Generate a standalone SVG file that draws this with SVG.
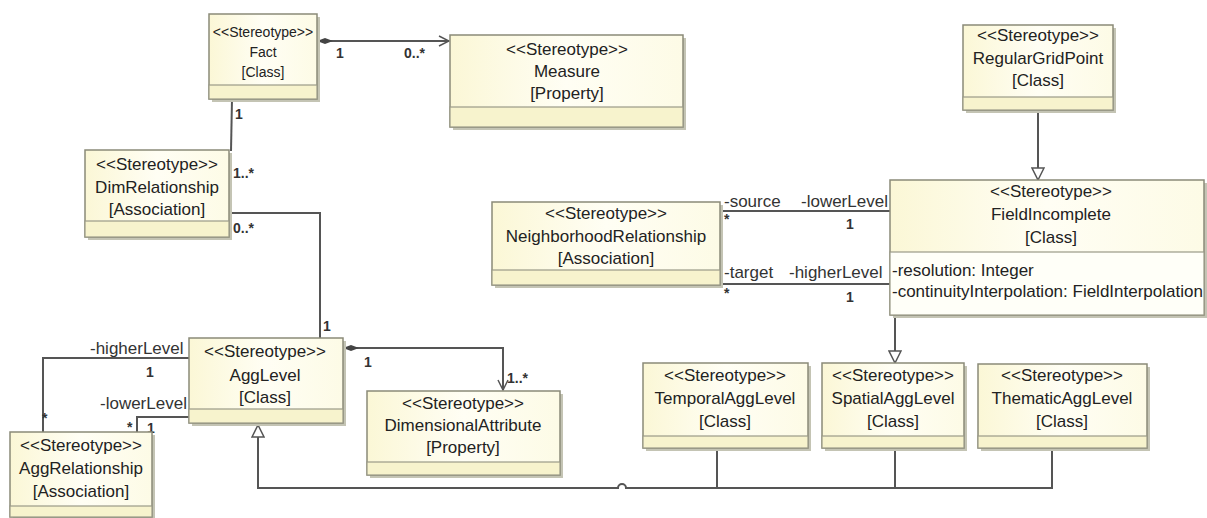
<svg xmlns="http://www.w3.org/2000/svg" width="1207" height="518" viewBox="0 0 1207 518">
<defs>
<linearGradient id="g" x1="0" y1="0" x2="1" y2="0">
<stop offset="0" stop-color="#fbf7d6"/>
<stop offset="0.5" stop-color="#fffef4"/>
<stop offset="1" stop-color="#fdfbe6"/>
</linearGradient>
<marker id="open" viewBox="0 0 12 12" refX="11" refY="6" markerWidth="12" markerHeight="12" markerUnits="userSpaceOnUse" orient="auto">
<path d="M1,1 L11,6 L1,11" fill="none" stroke="#555" stroke-width="1.5"/>
</marker>
<marker id="dia" viewBox="0 0 18 8" refX="1" refY="4" markerWidth="18" markerHeight="8" markerUnits="userSpaceOnUse" orient="auto">
<path d="M1,4 L9,1 L17,4 L9,7 Z" fill="#444"/>
</marker>
<marker id="tri" viewBox="0 0 14 14" refX="13" refY="7" markerWidth="14" markerHeight="14" markerUnits="userSpaceOnUse" orient="auto">
<path d="M1,1 L13,7 L1,13 Z" fill="#fff" stroke="#555" stroke-width="1.5"/>
</marker>
</defs>
<style>
.sh{fill:#c4c4b4;}
.box{fill:url(#g);stroke:#8a8a78;stroke-width:1.5;}
.cmp{fill:#f7f3cd;stroke:#9a9a88;stroke-width:1.2;}
.t{font-family:"Liberation Sans",Arial,sans-serif;font-size:17px;fill:#222;text-anchor:middle;}
.ts{font-family:"Liberation Sans",Arial,sans-serif;font-size:14px;fill:#222;text-anchor:middle;}
.a{font-family:"Liberation Sans",Arial,sans-serif;font-size:17px;fill:#222;}
.l{font-family:"Liberation Sans",Arial,sans-serif;font-size:17px;fill:#333;}
.m{font-family:"Liberation Sans",Arial,sans-serif;font-size:14px;font-weight:bold;fill:#333;}
.c{fill:none;stroke:#555;stroke-width:2;}
</style>

<g id="connectors">
<line class="c" x1="317" y1="41" x2="449" y2="41" marker-start="url(#dia)" marker-end="url(#open)"/>
<text class="m" x="336" y="58">1</text>
<text class="m" x="404" y="58">0..*</text>
<line class="c" x1="232" y1="99" x2="231" y2="151"/>
<text class="m" x="235" y="119">1</text>
<text class="m" x="233" y="178">1..*</text>
<polyline class="c" points="229,213 320,213 320,338"/>
<text class="m" x="233" y="233">0..*</text>
<text class="m" x="323" y="331">1</text>
<polyline class="c" points="343,348 503,348 503,390" marker-start="url(#dia)" marker-end="url(#open)"/>
<text class="m" x="364" y="367">1</text>
<text class="m" x="507" y="383">1..*</text>
<polyline class="c" points="43,432 43,358 189,358"/>
<text class="l" x="90" y="354">-higherLevel</text>
<text class="m" x="146" y="377">1</text>
<text class="m" x="42" y="423">*</text>
<polyline class="c" points="189,417 137,417 137,432"/>
<text class="l" x="100" y="409">-lowerLevel</text>
<text class="m" x="147" y="433">1</text>
<text class="m" x="127" y="432">*</text>
<path class="c" d="M1052,448 L1052,488 L626,488 A4,4 0 0 0 618,488 L258,488 L258,425" marker-end="url(#tri)"/>
<line class="c" x1="717" y1="448" x2="717" y2="488"/>
<line class="c" x1="895" y1="448" x2="895" y2="488"/>
<line class="c" x1="895" y1="315" x2="895" y2="363" marker-end="url(#tri)"/>
<line class="c" x1="1038" y1="110" x2="1038" y2="180" marker-end="url(#tri)"/>
<line class="c" x1="720" y1="211" x2="890" y2="211"/>
<text class="l" x="724" y="207">-source</text>
<text class="l" x="801" y="207">-lowerLevel</text>
<text class="m" x="724" y="224">*</text>
<text class="m" x="846" y="229">1</text>
<line class="c" x1="720" y1="284" x2="890" y2="284"/>
<text class="l" x="724" y="278">-target</text>
<text class="l" x="789" y="278">-higherLevel</text>
<text class="m" x="724" y="298">*</text>
<text class="m" x="846" y="302">1</text>
</g>

<g id="fact">
<rect class="sh" x="212" y="17" width="108" height="85"/>
<rect class="box" x="209" y="14" width="108" height="85"/>
<rect class="cmp" x="209" y="85" width="108" height="14"/>
<text class="ts" x="263" y="37">&lt;&lt;Stereotype&gt;&gt;</text>
<text class="ts" x="263" y="57">Fact</text>
<text class="ts" x="263" y="77">[Class]</text>
</g>

<g id="measure">
<rect class="sh" x="453" y="38" width="233" height="92"/>
<rect class="box" x="450" y="35" width="233" height="92"/>
<rect class="cmp" x="450" y="107" width="233" height="20"/>
<text class="t" x="567" y="55">&lt;&lt;Stereotype&gt;&gt;</text>
<text class="t" x="567" y="77">Measure</text>
<text class="t" x="567" y="99">[Property]</text>
</g>

<g id="dimrelationship">
<rect class="sh" x="88" y="153" width="144" height="87"/>
<rect class="box" x="85" y="150" width="144" height="87"/>
<rect class="cmp" x="85" y="221" width="144" height="16"/>
<text class="t" x="157" y="170">&lt;&lt;Stereotype&gt;&gt;</text>
<text class="t" x="157" y="193">DimRelationship</text>
<text class="t" x="157" y="215">[Association]</text>
</g>

<g id="agglevel">
<rect class="sh" x="192" y="341" width="154" height="85"/>
<rect class="box" x="189" y="338" width="154" height="85"/>
<rect class="cmp" x="189" y="409" width="154" height="14"/>
<text class="t" x="265" y="357">&lt;&lt;Stereotype&gt;&gt;</text>
<text class="t" x="265" y="381">AggLevel</text>
<text class="t" x="265" y="403">[Class]</text>
</g>

<g id="aggrelationship">
<rect class="sh" x="13" y="435" width="142" height="85"/>
<rect class="box" x="10" y="432" width="142" height="85"/>
<rect class="cmp" x="10" y="506" width="142" height="11"/>
<text class="t" x="81" y="451">&lt;&lt;Stereotype&gt;&gt;</text>
<text class="t" x="81" y="474">AggRelationship</text>
<text class="t" x="81" y="497">[Association]</text>
</g>

<g id="dimattribute">
<rect class="sh" x="370" y="394" width="193" height="84"/>
<rect class="box" x="367" y="391" width="193" height="84"/>
<rect class="cmp" x="367" y="462" width="193" height="13"/>
<text class="t" x="463" y="409">&lt;&lt;Stereotype&gt;&gt;</text>
<text class="t" x="463" y="431">DimensionalAttribute</text>
<text class="t" x="463" y="453">[Property]</text>
</g>

<g id="neighborhood">
<rect class="sh" x="495" y="205" width="228" height="83"/>
<rect class="box" x="492" y="202" width="228" height="83"/>
<rect class="cmp" x="492" y="270" width="228" height="15"/>
<text class="t" x="606" y="219">&lt;&lt;Stereotype&gt;&gt;</text>
<text class="t" x="606" y="242">NeighborhoodRelationship</text>
<text class="t" x="606" y="264">[Association]</text>
</g>

<g id="regulargridpoint">
<rect class="sh" x="966" y="28" width="150" height="85"/>
<rect class="box" x="963" y="25" width="150" height="85"/>
<rect class="cmp" x="963" y="97" width="150" height="13"/>
<text class="t" x="1038" y="41">&lt;&lt;Stereotype&gt;&gt;</text>
<text class="t" x="1038" y="64">RegularGridPoint</text>
<text class="t" x="1038" y="86">[Class]</text>
</g>

<g id="fieldincomplete">
<rect class="sh" x="893" y="183" width="314" height="135"/>
<rect class="box" x="890" y="180" width="314" height="135"/>
<rect x="890" y="252" width="314" height="63" fill="#fffff8" stroke="#9a9a88" stroke-width="1.2"/>
<text class="t" x="1051" y="197">&lt;&lt;Stereotype&gt;&gt;</text>
<text class="t" x="1051" y="220">FieldIncomplete</text>
<text class="t" x="1051" y="243">[Class]</text>
<text class="a" x="892" y="276">-resolution: Integer</text>
<text class="a" x="892" y="297">-continuityInterpolation: FieldInterpolation</text>
</g>

<g id="temporal">
<rect class="sh" x="646" y="366" width="165" height="85"/>
<rect class="box" x="643" y="363" width="165" height="85"/>
<rect class="cmp" x="643" y="436" width="165" height="12"/>
<text class="t" x="725" y="381">&lt;&lt;Stereotype&gt;&gt;</text>
<text class="t" x="725" y="404">TemporalAggLevel</text>
<text class="t" x="725" y="427">[Class]</text>
</g>

<g id="spatial">
<rect class="sh" x="825" y="366" width="142" height="85"/>
<rect class="box" x="822" y="363" width="142" height="85"/>
<rect class="cmp" x="822" y="436" width="142" height="12"/>
<text class="t" x="893" y="381">&lt;&lt;Stereotype&gt;&gt;</text>
<text class="t" x="893" y="404">SpatialAggLevel</text>
<text class="t" x="893" y="427">[Class]</text>
</g>

<g id="thematic">
<rect class="sh" x="981" y="367" width="169" height="84"/>
<rect class="box" x="978" y="364" width="169" height="84"/>
<rect class="cmp" x="978" y="436" width="169" height="12"/>
<text class="t" x="1062" y="381">&lt;&lt;Stereotype&gt;&gt;</text>
<text class="t" x="1062" y="404">ThematicAggLevel</text>
<text class="t" x="1062" y="427">[Class]</text>
</g>
</svg>
